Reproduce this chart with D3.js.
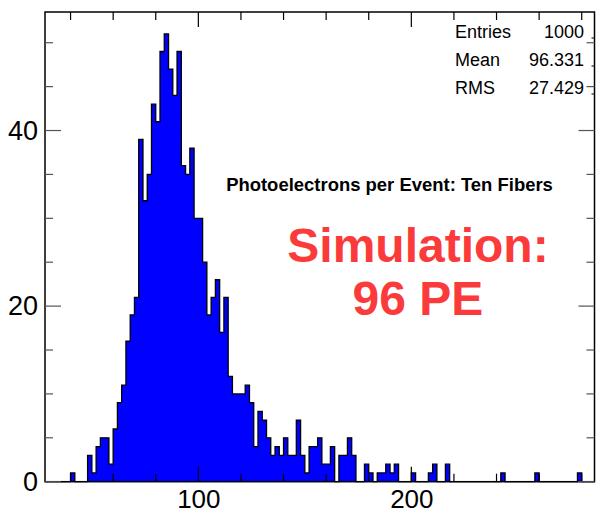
<!DOCTYPE html>
<html><head><meta charset="utf-8">
<script src="https://cdn.jsdelivr.net/npm/d3@7"></script>
<style>body{margin:0;background:#fff}svg{display:block}text{font-family:"Liberation Sans",Arial,Helvetica,sans-serif}</style>
</head><body>
<svg id="c" width="605" height="519"></svg>
<script>
// ---- data ----
const binStart = 28, binWidth = 2;
const counts = [
 0,0,0,0,0,0,1,0,0,0,            // 28..46
 3,1,4,5,5,2,6,9,11,16,          // 48..66
 19,21,39,32,35,43,41,49,51,47,  // 68..86
 44,49,36,35,38,30,30,25,19,21,  // 88..106
 23,17,21,12,10,10,10,11,9,4,    // 108..126
 8,7,5,3,4,3,5,3,3,7,            // 128..146
 3,1,4,4,5,2,2,4,0,3,            // 148..166
 3,5,3,0,0,2,1,0,1,1,            // 168..186
 2,1,2,0,0,0,1,0,0,0,            // 188..206
 1,2,0,0,2,0,0,0,0,0,            // 208..226
 0,0,0,0,0,0,0,1,0,0,            // 228..246
 0,0,0,0,0,1,0,0,0,0,            // 248..266
 0,0,0,0,0,1,0,0,0               // 268..284
];
const xDomain = [28, 286];
const yDomain = [0, 53.5];
const xMajor = [100, 200];
const xMinor = [40,60,80,100,120,140,160,180,200,220,240,260,280];
const yMajor = [0, 20, 40];
const yMinor = [0,5,10,15,20,25,30,35,40,45,50];
const statsLabels = ["Entries", "Mean", "RMS"];
const statsValues = ["1000", "96.331", "27.429"];
const title = "Photoelectrons per Event: Ten Fibers";
const note = ["Simulation:", "96 PE"];

// ---- layout ----
const L = 45, R = 594.5, T = 12, B = 481.7;
const svg = d3.select("#c");
const x = d3.scaleLinear().domain(xDomain).range([L, R]);
const y = d3.scaleLinear().domain(yDomain).range([B, T]);

const bins = counts.map((c, i) => ({x0: binStart + i*binWidth, x1: binStart + (i+1)*binWidth, c}));
const last = bins[bins.length-1];
const pts = [{x: binStart, c: 0}].concat(bins.map(d => ({x: d.x0, c: d.c})), [{x: last.x1, c: last.c}, {x: last.x1, c: 0}]);

// fill (one step area)
svg.append("path").datum(pts)
  .attr("d", d3.area().x(d => x(d.x)).y0(y(0)).y1(d => y(d.c)).curve(d3.curveStepAfter))
  .attr("fill", "#0000ff");

// outline (step)
svg.append("path").datum(pts)
  .attr("d", d3.line().x(d => x(d.x)).y(d => y(d.c)).curve(d3.curveStepAfter))
  .attr("fill", "none").attr("stroke", "#000").attr("stroke-width", 1.3);

// frame
svg.append("rect").attr("x", L).attr("y", T).attr("width", R - L).attr("height", B - T)
  .attr("fill", "none").attr("stroke", "#000").attr("stroke-width", 1.5);

// ticks
const tk = svg.append("g").attr("stroke", "#000").attr("stroke-width", 1.2);
xMinor.forEach(v => {
  const len = xMajor.includes(v) ? 15 : 8;
  tk.append("line").attr("x1", x(v)).attr("x2", x(v)).attr("y1", B).attr("y2", B - len);
  tk.append("line").attr("x1", x(v)).attr("x2", x(v)).attr("y1", T).attr("y2", T + len);
});
yMinor.forEach(v => {
  const len = yMajor.includes(v) ? 16 : 8;
  tk.append("line").attr("x1", L).attr("x2", L + len).attr("y1", y(v)).attr("y2", y(v)).attr("stroke", "#555");
  tk.append("line").attr("x1", R).attr("x2", R - len).attr("y1", y(v)).attr("y2", y(v)).attr("stroke", "#555");
});

// axis labels via d3 axes
const xAxis = svg.append("g").attr("transform", `translate(0,${B})`)
  .call(d3.axisBottom(x).tickValues(xMajor).tickSize(0).tickPadding(8).tickFormat(d3.format("d")));
xAxis.select(".domain").remove();
xAxis.selectAll("text").attr("font-size", 26).attr("fill", "#000")
  .attr("font-family", "Liberation Sans, Arial, sans-serif");
const yAxis = svg.append("g").attr("transform", `translate(${L},0)`)
  .call(d3.axisLeft(y).tickValues(yMajor).tickSize(0).tickPadding(7).tickFormat(d3.format("d")));
yAxis.select(".domain").remove();
yAxis.selectAll("text").attr("font-size", 27).attr("fill", "#000")
  .attr("font-family", "Liberation Sans, Arial, sans-serif");

// stats box
const sb = [38, 66, 94];
const stats = svg.append("g").attr("font-size", 18).attr("fill", "#000");
statsLabels.forEach((lab, i) => {
  stats.append("text").attr("x", 455).attr("y", sb[i]).text(lab);
  stats.append("text").attr("x", 584).attr("y", sb[i]).attr("text-anchor", "end").text(statsValues[i]);
  svg.append("line").attr("x1", R - 3).attr("x2", R).attr("y1", sb[i]).attr("y2", sb[i])
    .attr("stroke", "#000").attr("stroke-width", 1);
});

// title text
const t = svg.append("text").attr("x", 389.5).attr("y", 191).attr("text-anchor", "middle")
  .attr("font-weight", "bold").attr("font-size", 15).text(title);
const tw = t.node().getComputedTextLength();
t.attr("font-size", 15 * 327 / tw);

// red note
svg.append("text").attr("x", 418).attr("y", 262).attr("text-anchor", "middle")
  .attr("font-weight", "bold").attr("font-size", 48).attr("fill", "#fb3b3b").text(note[0]);
svg.append("text").attr("x", 418).attr("y", 315).attr("text-anchor", "middle")
  .attr("font-weight", "bold").attr("font-size", 48).attr("fill", "#fb3b3b").text(note[1]);
</script>
</body></html>
